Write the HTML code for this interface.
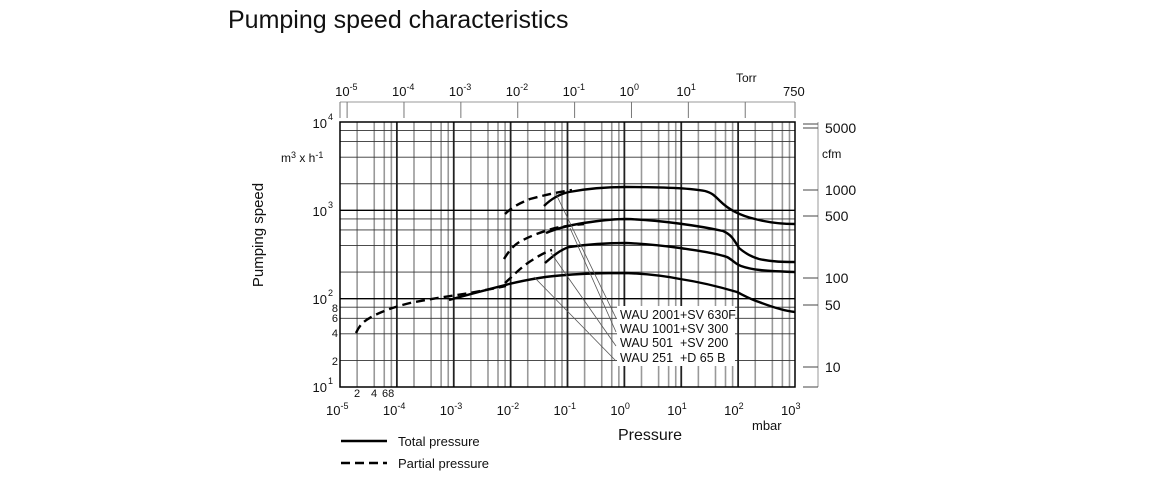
<!DOCTYPE html>
<html><head><meta charset="utf-8"><style>
body{margin:0;background:#fff;width:1160px;height:480px;overflow:hidden}
svg{display:block}
text{font-family:"Liberation Sans",Arial,sans-serif;fill:#111}
</style></head><body>
<svg id="s" width="1160" height="480" viewBox="0 0 1160 480" xmlns="http://www.w3.org/2000/svg">
<text x="228" y="28" font-size="25" fill="#222">Pumping speed characteristics</text>
<g id="grid"></g>
<rect x="340" y="122" width="455" height="265" fill="none" stroke="#000" stroke-width="1.5"/>
<line x1="340" y1="102" x2="795" y2="102" stroke="#999" stroke-width="1"/>
<g id="torr"></g>
<text x="736" y="82" font-size="12">Torr</text>
<text x="783" y="96" font-size="13">750</text>
<line x1="818" y1="122" x2="818" y2="387" stroke="#999" stroke-width="1"/>
<g stroke="#444" stroke-width="1">
<line x1="803" y1="124" x2="818" y2="124"/><line x1="803" y1="128" x2="818" y2="128"/>
<line x1="803" y1="190" x2="818" y2="190"/><line x1="803" y1="216" x2="818" y2="216"/>
<line x1="803" y1="278" x2="818" y2="278"/><line x1="803" y1="305" x2="818" y2="305"/>
<line x1="803" y1="367" x2="818" y2="367"/><line x1="803" y1="387" x2="818" y2="387"/>
</g>
<g font-size="14">
<text x="825" y="133">5000</text><text x="825" y="195">1000</text><text x="825" y="221">500</text>
<text x="825" y="283">100</text><text x="825" y="310">50</text><text x="825" y="372">10</text>
</g>
<text x="822" y="158" font-size="12">cfm</text>
<g font-size="13" text-anchor="end">
<text x="327" y="128">10</text><text x="327" y="216">10</text><text x="327" y="304">10</text><text x="327" y="392">10</text>
</g>
<g font-size="9"><text x="328" y="120">4</text><text x="328" y="208">3</text><text x="328" y="296">2</text><text x="328" y="384">1</text></g>
<g font-size="11" text-anchor="end"><text x="338" y="312">8</text><text x="338" y="322">6</text><text x="338" y="337">4</text><text x="338" y="365">2</text></g>
<text x="281" y="162" font-size="12">m<tspan font-size="9" dy="-4">3</tspan><tspan dy="4"> x h</tspan><tspan font-size="9" dy="-4">-1</tspan></text>
<text transform="translate(263,235) rotate(-90)" font-size="15" text-anchor="middle">Pumping speed</text>
<g id="xl" font-size="13"></g>
<g font-size="11"><text x="354" y="397">2</text><text x="371" y="397">4</text><text x="382" y="397">68</text></g>
<text x="618" y="440" font-size="16">Pressure</text>
<text x="752" y="430" font-size="13">mbar</text>
<g fill="none" stroke="#000" stroke-width="2.4" stroke-linejoin="round">
<path d="M544,206 C552,198 560,194 569,192 C590,188 610,187 626,187 C660,187 690,188 705,191 C712,193 714,195 720,201 C730,211 742,216 755,219 C770,223 785,224 795,224"/>
<path d="M546,233 C560,227 575,224 591,222 C605,220 615,219 626,219 C660,220 700,226 723,231 C732,235 734,240 739,248 C746,254 752,257 759,259 C772,262 785,262 795,262"/>
<path d="M545,263 C553,256 560,250 569,247 C590,244 610,243 626,243 C650,244 665,246 680,248 C700,251 715,253 727,257 C733,260 735,264 741,266 C752,270 765,271 795,272"/>
<path d="M449,300 C470,294 490,289 509,284 C530,279 548,276 566,275 C590,273 610,273 626,273 C650,274 665,276 680,279 C700,282 720,287 737,292 C745,296 750,299 759,302 C772,307 785,311 795,312"/>
</g>
<g fill="none" stroke="#000" stroke-width="2.4" stroke-dasharray="9,5">
<path d="M505,214 C512,207 520,203 530,199 C545,195 558,192 572,190"/>
<path d="M504,259 C510,249 516,243 523,240 C535,234 545,231 555,228 C565,226 575,225 584,224"/>
<path d="M505,283 C515,274 522,266 534,259 C540,255 546,252 552,250"/>
<path d="M356,333 C360,324 365,320 375,315 C388,309 398,306 410,303 C430,299 450,296 470,293 C485,290 497,288 506,286"/>
</g>
<g stroke="#555" stroke-width="0.8">
<line x1="556" y1="194" x2="616" y2="318"/>
<line x1="570" y1="228" x2="616" y2="332"/>
<line x1="551" y1="253" x2="616" y2="346"/>
<line x1="534" y1="277" x2="616" y2="361"/>
</g>
<rect x="617" y="306" width="118" height="60" fill="#fff"/>
<g font-size="12.5">
<text x="620" y="319">WAU 2001+SV 630F</text>
<text x="620" y="333">WAU 1001+SV 300</text>
<text x="620" y="347">WAU 501&#160;&#160;+SV 200</text>
<text x="620" y="362">WAU 251&#160;&#160;+D 65 B</text>
</g>
<line x1="341" y1="441" x2="387" y2="441" stroke="#000" stroke-width="2.4"/>
<line x1="341" y1="463" x2="387" y2="463" stroke="#000" stroke-width="2.4" stroke-dasharray="9,5"/>
<text x="398" y="446" font-size="13">Total pressure</text>
<text x="398" y="468" font-size="13">Partial pressure</text>
</svg>
<script>
var NS="http://www.w3.org/2000/svg";
function el(p,t,a,txt){var e=document.createElementNS(NS,t);for(var k in a)e.setAttribute(k,a[k]);if(txt!==undefined)e.textContent=txt;p.appendChild(e);return e;}
var g=document.getElementById('grid'),L=340,R=795,T=122,B=387,dx=(R-L)/8,dy=(B-T)/3;
function X(l){return L+(l+5)*dx;} function Y(l){return B-(l-1)*dy;}
for(var d=-5;d<3;d++){[2,4,6,8].forEach(function(m){var x=X(d+Math.log10(m));el(g,'line',{x1:x,y1:T,x2:x,y2:B,stroke:'#999','stroke-width':1.6});});}
for(var d=1;d<4;d++){[2,4,6,8].forEach(function(m){var y=Y(d+Math.log10(m));el(g,'line',{x1:L,y1:y,x2:R,y2:y,stroke:'#333','stroke-width':0.9});});}
for(var d=-4;d<3;d++){var x=X(d);el(g,'line',{x1:x,y1:T,x2:x,y2:B,stroke:'#222','stroke-width':1.8});}
for(var d=2;d<4;d++){var y=Y(d);el(g,'line',{x1:L,y1:y,x2:R,y2:y,stroke:'#000','stroke-width':1.3});}
var t=document.getElementById('torr');
el(t,'line',{x1:L,y1:102,x2:L,y2:118,stroke:'#777'});el(t,'line',{x1:R,y1:102,x2:R,y2:118,stroke:'#777'});
var sh=Math.log10(1.33322);
for(var d=-5;d<3;d++){var x=X(d+sh);el(t,'line',{x1:x,y1:102,x2:x,y2:118,stroke:'#777'});
 if(d<2){var tx=el(t,'text',{x:x-12,y:96,'font-size':13},'10');el(tx,'tspan',{dy:-6,'font-size':9},(d<0?'-':'')+Math.abs(d));}}
var xl=document.getElementById('xl');
for(var d=-5;d<=3;d++){var x=X(d);var tx=el(xl,'text',{x:x-14,y:415},'10');el(tx,'tspan',{dy:-6,'font-size':9},String(d));}
</script>
</body></html>
